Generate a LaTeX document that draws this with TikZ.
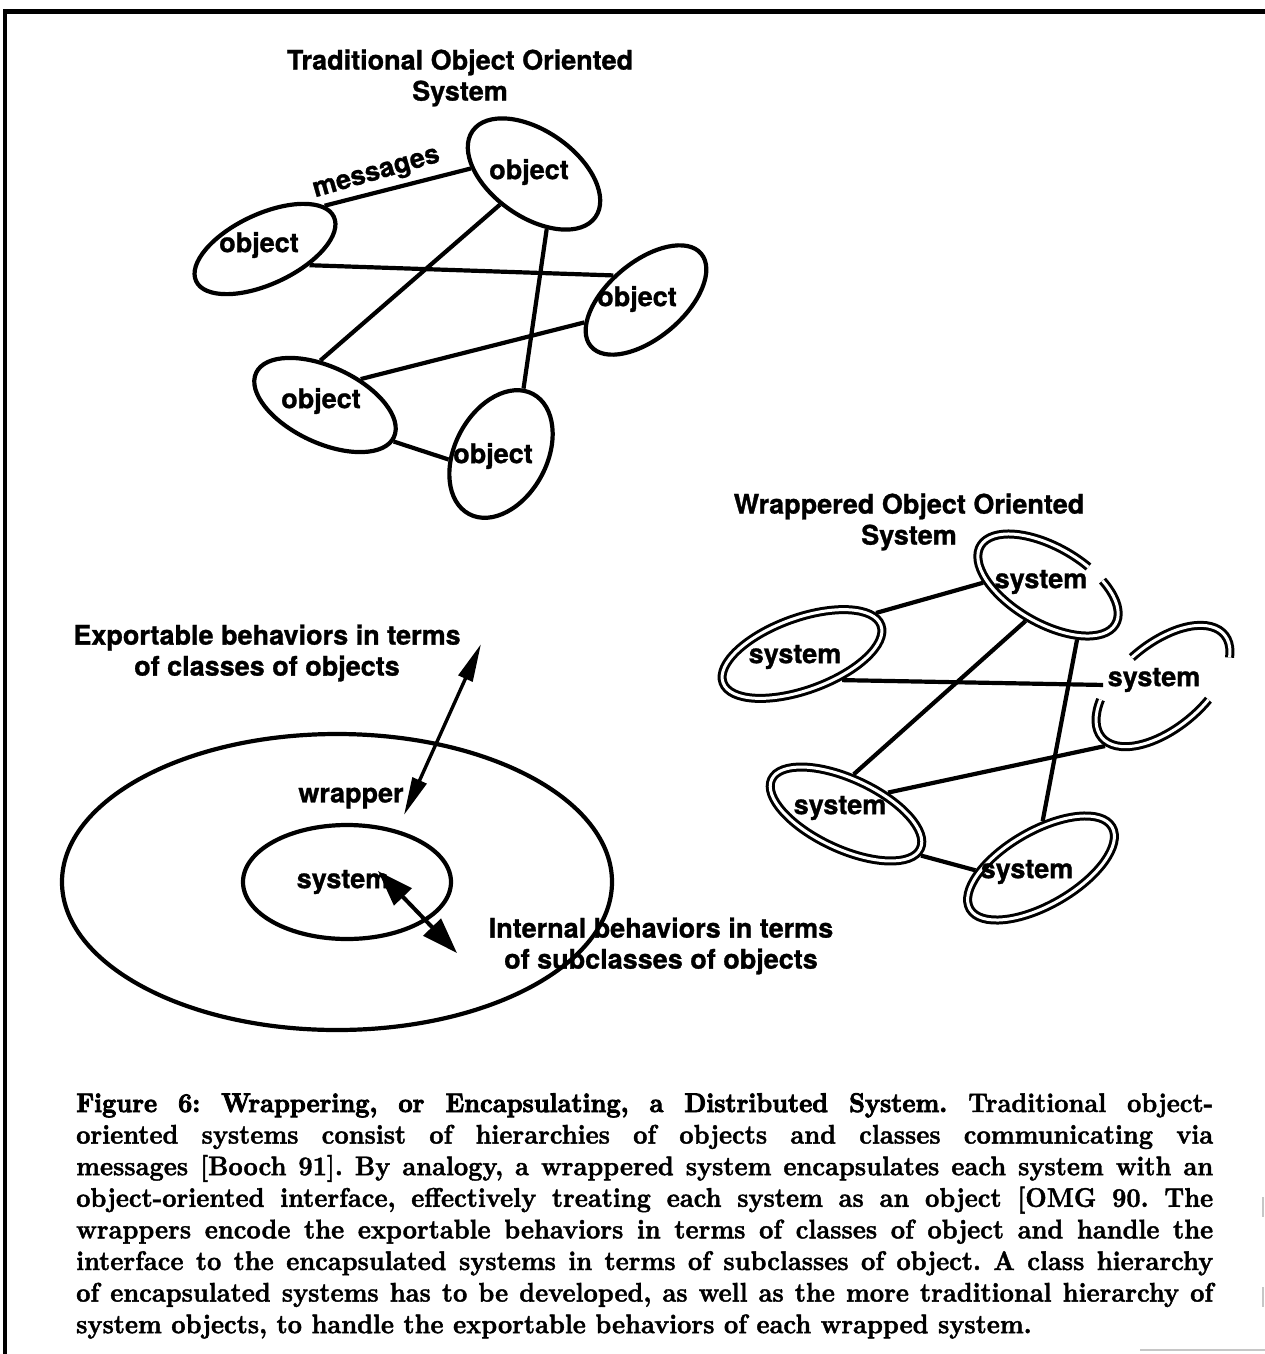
\documentclass[tikz,border=0pt]{standalone}
\usepackage{fontspec}
\setsansfont{TeX Gyre Heros}
\newfontface\capfont{lmroman10-bold}[Extension=.otf, FakeStretch=0.92, FakeBold=1.5]
\newfontface\capheavy{lmroman10-bold}[Extension=.otf, FakeStretch=0.92, FakeBold=3]
\usetikzlibrary{arrows.meta,shapes.geometric}

\newcommand\capline[1]{\makebox[1137pt][s]{#1}}

\begin{document}
\begin{tikzpicture}[x=1pt,y=-1pt,
  lbl/.style={font=\sffamily\bfseries\fontsize{27}{31}\selectfont\addfontfeatures{FakeBold=1},
              inner sep=0pt, align=center},
  obj/.style={draw, ellipse, line width=4.2pt, inner sep=0pt},
  ring/.style={ellipse, inner sep=0pt, outer sep=4.5pt},
  dbl/.style={double, line width=3pt, double distance=3pt},
  link/.style={line width=4.2pt},
  thinhead/.style={line width=3.4pt, {Triangle[length=38pt,width=15pt]}-{Triangle[length=38pt,width=15pt]}},
  fathead/.style={line width=4pt, {Triangle[length=36pt,width=24pt]}-{Triangle[length=36pt,width=24pt]}},
]
\useasboundingbox (0,0) rectangle (1265,1354);

% page frame
\draw[line width=5pt] (3,12) -- (1265,12);
\draw[line width=3.2pt] (5,10) -- (5,1354);
\draw[gray!45, line width=1.5pt] (1140,1350) -- (1265,1350);
\draw[gray!45, line width=1.2pt] (1263,1197) -- (1263,1217) (1263,1287) -- (1263,1307);

% ---------- traditional object oriented system ----------
\node[lbl] (title1) at (460,78) {Traditional Object Oriented\\System};

\node[obj, minimum width=150pt, minimum height=86pt, rotate=-35] (oA) at (534,174) {};
\node[obj, minimum width=152pt, minimum height=70pt, rotate=25]  (oB) at (265,249) {};
\node[obj, minimum width=144pt, minimum height=76pt, rotate=40]  (oC) at (646,300) {};
\node[obj, minimum width=152pt, minimum height=76pt, rotate=-25] (oD) at (325,405) {};
\node[obj, minimum width=136pt, minimum height=92pt, rotate=62]  (oE) at (501,454) {};

\node[lbl] (tA) at (529,172) {object};
\node[lbl] (tB) at (259,245) {object};
\node[lbl] (tC) at (637,299) {object};
\node[lbl] (tD) at (321,401) {object};
\node[lbl] (tE) at (493,456) {object};

\draw[link] (oB.11)  -- (oA.210);
\draw[link] (oB.315) -- (oC.103);
\draw[link] (oA.257) -- (oD.121);
\draw[link] (oA.318) -- (oE.9);
\draw[link] (oD.61)  -- (oC.160);
\draw[link] (oD.357) -- (oE.124);

\node[lbl, rotate=16] (msg) at (377,175) {messages};

% ---------- wrappered object oriented system ----------
\node[lbl] (title2) at (909,522) {Wrappered Object Oriented\\System};

\node[ring, minimum width=156pt, minimum height=76pt, rotate=-30] (oS1) at (1048,585) {};
\node[ring, draw, dbl, minimum width=168pt, minimum height=72pt, rotate=20] (oS2) at (802,654) {};
\node[ring, minimum width=160pt, minimum height=84pt, rotate=40] (oS3) at (1163,686) {};
\node[ring, draw, dbl, minimum width=164pt, minimum height=70pt, rotate=-25] (oS4) at (846,814) {};
\node[ring, draw, dbl, minimum width=164pt, minimum height=74pt, rotate=30] (oS5) at (1041,868) {};

% open wrappers drawn as broken rings
\begin{scope}[shift={(1048,585)}, rotate=-30, y=1pt]
  \draw[dbl] (54.8:78 and 38) arc[start angle=54.8, end angle=-289.5, x radius=78, y radius=38];
\end{scope}
\begin{scope}[shift={(1163,686)}, rotate=40, y=1pt]
  \draw[dbl] (-30:80 and 42) arc[start angle=-30, end angle=94, x radius=80, y radius=42];
  \draw[dbl] (135:80 and 42) arc[start angle=135, end angle=289, x radius=80, y radius=42];
\end{scope}

\node[lbl] (tS1) at (1041,582) {system};
\node[lbl] (tS2) at (795,657) {system};
\node[lbl] (tS3) at (1154,680) {system};
\node[lbl] (tS4) at (840,808) {system};
\node[lbl] (tS5) at (1027,872) {system};

\draw[link] (oS2.9)   -- (oS1.208);
\draw[link] (oS2.307) -- (oS3.139);
\draw[link] (oS1.268) -- (oS4.104);
\draw[link] (oS1.328) -- (oS5.58);
\draw[link] (oS4.52)  -- (oS3.186);
\draw[link] (oS4.356) -- (oS5.152);

% ---------- wrapper around a system ----------
\node[obj, minimum width=550pt, minimum height=296pt] (wrap) at (337,882) {};
\node[obj, minimum width=208pt, minimum height=114pt] (core) at (347,882) {};
\node[lbl] (wraplbl) at (351,798) {wrapper};
\node[lbl] (corelbl) at (343,882) {system};

\node[lbl] (export) at (267,653) {Exportable behaviors in terms\\of classes of objects};
\node[lbl] (internal) at (661,946) {Internal behaviors in terms\\of subclasses of objects};

\coordinate (a1s) at (404,815);
\coordinate (a1e) at (481,644);
\coordinate (a2s) at (378,871);
\coordinate (a2e) at (457,953);
\draw[thinhead] (a1s) -- (a1e);
\draw[fathead] (a2s) -- (a2e);

% ---------- caption ----------
\node[anchor=north west, inner sep=0pt, align=left,
      font=\capfont\fontsize{27}{31.6}\selectfont\frenchspacing]
      (caption) at (76,1093) {%
\capline{{\capheavy Figure 6: Wrappering, or Encapsulating, a Distributed System.} Traditional object-}\\
\capline{oriented systems consist of hierarchies of objects and classes communicating via}\\
\capline{messages [Booch 91]. By analogy, a wrappered system encapsulates each system with an}\\
\capline{object-oriented interface, effectively treating each system as an object [OMG 90. The}\\
\capline{wrappers encode the exportable behaviors in terms of classes of object and handle the}\\
\capline{interface to the encapsulated systems in terms of subclasses of object. A class hierarchy}\\
\capline{of encapsulated systems has to be developed, as well as the more traditional hierarchy of}\\
system objects, to handle the exportable behaviors of each wrapped system.};

\end{tikzpicture}
\end{document}
